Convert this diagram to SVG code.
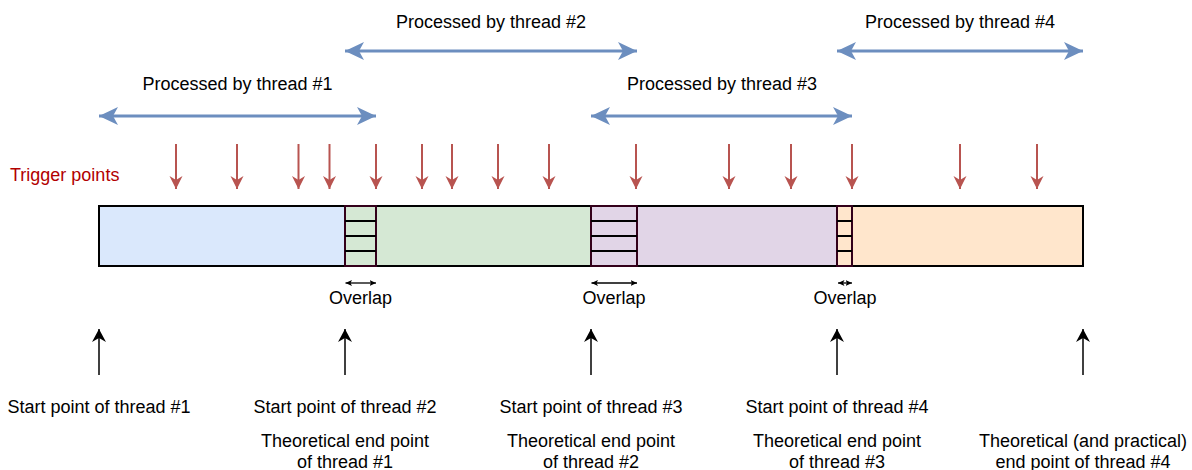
<svg xmlns="http://www.w3.org/2000/svg" width="1192" height="470" viewBox="0 0 1192 470">
<style>
text{font-family:"Liberation Sans",Arial,Helvetica,sans-serif;font-size:18px;fill:#000;text-anchor:middle}
.red{fill:#b20000;text-anchor:start}
.seg{stroke:#000;stroke-width:2}
.ov{stroke:#33001a;stroke-width:2}
.ovl{stroke:#000;stroke-width:2}
.blue{stroke:#6c8ebf;stroke-width:3;fill:none;marker-start:url(#mb);marker-end:url(#mb)}
.trig{stroke:#b85450;stroke-width:2;fill:none;marker-end:url(#mr)}
.up{stroke:#000;stroke-width:1.5;fill:none;marker-end:url(#mk)}
.small{stroke:#000;stroke-width:1.3;fill:none;marker-start:url(#ms);marker-end:url(#ms)}
</style>
<defs>
<marker id="mb" markerUnits="userSpaceOnUse" viewBox="0 0 20 18" markerWidth="20" markerHeight="18" refX="19" refY="9" orient="auto-start-reverse"><path d="M19,9 L0,0 L5,9 L0,18 Z" fill="#6c8ebf"/></marker>
<marker id="mr" markerUnits="userSpaceOnUse" viewBox="0 0 14 14" markerWidth="14" markerHeight="14" refX="13" refY="7" orient="auto"><path d="M13,7 L0,0.5 L4,7 L0,13.5 Z" fill="#b85450"/></marker>
<marker id="mk" markerUnits="userSpaceOnUse" viewBox="0 0 14 15" markerWidth="14" markerHeight="15" refX="13" refY="7.5" orient="auto"><path d="M13,7.5 L0,0.5 L4,7.5 L0,14.5 Z" fill="#000"/></marker>
<marker id="ms" markerUnits="userSpaceOnUse" viewBox="0 0 7 7" markerWidth="7" markerHeight="7" refX="6.5" refY="3.5" orient="auto-start-reverse"><path d="M6.5,3.5 L0,0.5 L1.5,3.5 L0,6.5 Z" fill="#000"/></marker>
</defs>
<rect width="1192" height="470" fill="#fff"/>

<g id="bar">
<rect class="seg" x="99" y="206" width="246" height="60" fill="#dae8fc"/>
<rect class="seg" x="376" y="206" width="215" height="60" fill="#d5e8d4"/>
<rect class="seg" x="637" y="206" width="200" height="60" fill="#e1d5e7"/>
<rect class="seg" x="852" y="206" width="231" height="60" fill="#ffe6cc"/>
</g>
<g id="overlap1">
<rect class="ov" x="345" y="206" width="31" height="60" fill="#d5e8d4"/>
<path class="ovl" d="M345,221H376M345,236H376M345,251H376"/>
</g>
<g id="overlap2">
<rect class="ov" x="591" y="206" width="46" height="60" fill="#e1d5e7"/>
<path class="ovl" d="M591,221H637M591,236H637M591,251H637"/>
</g>
<g id="overlap3">
<rect class="ov" x="837" y="206" width="15" height="60" fill="#ffe6cc"/>
<path class="ovl" d="M837,221H852M837,236H852M837,251H852"/>
</g>

<g id="label-trigger"><text class="red" x="10" y="181">Trigger points</text></g>
<g id="label-t1"><text x="237.5" y="90">Processed by thread #1</text></g>
<g id="label-t2"><text x="491" y="28">Processed by thread #2</text></g>
<g id="label-t3"><text x="722" y="90">Processed by thread #3</text></g>
<g id="label-t4"><text x="960" y="28">Processed by thread #4</text></g>
<g id="label-ov1"><text x="360.5" y="304">Overlap</text></g>
<g id="label-ov2"><text x="614" y="304">Overlap</text></g>
<g id="label-ov3"><text x="845" y="304">Overlap</text></g>
<g id="label-p1"><text x="99" y="413">Start point of thread #1</text></g>
<g id="label-p2"><text x="345" y="413">Start point of thread #2</text><text x="345" y="447">Theoretical end point</text><text x="345" y="468">of thread #1</text></g>
<g id="label-p3"><text x="591" y="413">Start point of thread #3</text><text x="591" y="447">Theoretical end point</text><text x="591" y="468">of thread #2</text></g>
<g id="label-p4"><text x="837" y="413">Start point of thread #4</text><text x="837" y="447">Theoretical end point</text><text x="837" y="468">of thread #3</text></g>
<g id="label-p5"><text x="1083" y="447">Theoretical (and practical)</text><text x="1083" y="468">end point of thread #4</text></g>

<g id="connectors">
<line class="blue" x1="99" y1="116" x2="376" y2="116"/>
<line class="blue" x1="345" y1="51" x2="637" y2="51"/>
<line class="blue" x1="591" y1="116" x2="852" y2="116"/>
<line class="blue" x1="837" y1="51" x2="1083" y2="51"/>
<line class="trig" x1="176" y1="144" x2="176" y2="189"/>
<line class="trig" x1="237" y1="144" x2="237" y2="189"/>
<line class="trig" x1="298.5" y1="144" x2="298.5" y2="189"/>
<line class="trig" x1="329.5" y1="144" x2="329.5" y2="189"/>
<line class="trig" x1="376" y1="144" x2="376" y2="189"/>
<line class="trig" x1="422" y1="144" x2="422" y2="189"/>
<line class="trig" x1="452" y1="144" x2="452" y2="189"/>
<line class="trig" x1="498" y1="144" x2="498" y2="189"/>
<line class="trig" x1="549" y1="144" x2="549" y2="189"/>
<line class="trig" x1="636" y1="144" x2="636" y2="189"/>
<line class="trig" x1="729" y1="144" x2="729" y2="189"/>
<line class="trig" x1="791" y1="144" x2="791" y2="189"/>
<line class="trig" x1="852" y1="144" x2="852" y2="189"/>
<line class="trig" x1="960" y1="144" x2="960" y2="189"/>
<line class="trig" x1="1037" y1="144" x2="1037" y2="189"/>
<line class="small" x1="345.5" y1="283" x2="376" y2="283"/>
<line class="small" x1="591.5" y1="283" x2="637" y2="283"/>
<line class="small" x1="838" y1="283" x2="852" y2="283"/>
<line class="up" x1="99" y1="375" x2="99" y2="329"/>
<line class="up" x1="345" y1="375" x2="345" y2="329"/>
<line class="up" x1="591" y1="375" x2="591" y2="329"/>
<line class="up" x1="837" y1="375" x2="837" y2="329"/>
<line class="up" x1="1083" y1="375" x2="1083" y2="329"/>
</g>
</svg>
